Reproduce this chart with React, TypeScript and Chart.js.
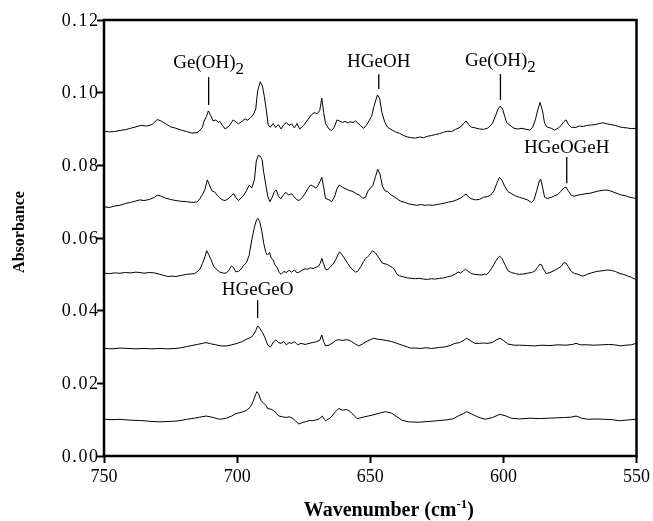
import React, { useEffect, useRef } from "react";
import { Chart, registerables } from "chart.js";

Chart.register(...registerables);

const FAMILY = '"Liberation Serif", "Times New Roman", serif';

const xTicks = [750, 700, 650, 600, 550];
const yTicks = [0, 0.02, 0.04, 0.06, 0.08, 0.1, 0.12];

// [wavenumber, absorbance]
const trace1: [number, number][] = [
  [750, .0894], [748, .0892], [746, .0893], [744, .0896], [742, .0898], [740, .0902], [738, .0906], [736, .0910], [734, .0908], [732, .0912],
  [730, .0926], [728.5, .0922], [727, .0915], [725, .0906], [723, .0902], [721, .0897], [719, .0893], [717, .0889], [715, .0890], [714, .0896],
  [713, .0905], [712.5, .0920], [711.5, .0935], [710.8, .0950], [710, .0938], [709, .0922], [708, .0925], [707, .0918], [706.5, .0921], [705.5, .0910],
  [704.5, .0900], [703, .0908], [701.5, .0925], [700.5, .0920], [699.5, .0914], [698, .0922], [697, .0928], [696, .0924], [695, .0932], [694, .0938],
  [693, .0955], [692.3, .1005], [691.3, .1030], [690.5, .1018], [689.8, .0990], [689, .0950], [688.3, .0910], [687.5, .0905], [686.5, .0915], [685.5, .0904],
  [684.5, .0912], [683.5, .0900], [682.5, .0912], [681.5, .0918], [680.5, .0910], [679.5, .0914], [678.5, .0903], [677.5, .0915], [676.5, .0900], [675, .0910],
  [673.5, .0925], [672, .0940], [671, .0945], [670, .0942], [669, .0950], [668.2, .0985], [667.5, .0945], [666.8, .0915], [665.5, .0900], [664.5, .0896],
  [663.5, .0905], [662.5, .0925], [661.5, .0922], [660.5, .0918], [659.5, .0921], [658.5, .0917], [657.5, .0920], [656.5, .0918], [655.5, .0922], [654.5, .0915],
  [653.5, .0908], [652.5, .0902], [651.5, .0910], [650.5, .0922], [649.5, .0935], [648.5, .0965], [647.3, .0994], [646.5, .0985], [645.6, .0945], [644.5, .0918],
  [643.5, .0905], [642.5, .0900], [641.5, .0896], [640.5, .0892], [639, .0888], [637.5, .0882], [636, .0878], [634.5, .0876], [633, .0875], [631.5, .0878],
  [630, .0876], [628.5, .0880], [627, .0882], [625.5, .0885], [624, .0887], [622.5, .0891], [621, .0894], [619.5, .0893], [618, .0899], [617, .0902],
  [616, .0906], [615, .0915], [614, .0922], [613, .0912], [612, .0905], [610.5, .0903], [609, .0900], [607.5, .0899], [606, .0902], [605, .0908],
  [604, .0917], [603, .0935], [602, .0955], [601.2, .0963], [600.3, .0955], [599.5, .0935], [598.8, .0918], [597.5, .0910], [596, .0902], [594.5, .0900],
  [593, .0902], [591.5, .0899], [590, .0897], [589, .0905], [588, .0925], [587, .0955], [586.2, .0973], [585.3, .0950], [584.5, .0915], [583.5, .0905],
  [582, .0902], [580.8, .0897], [579.5, .0902], [578.3, .0910], [577.3, .0920], [576.5, .0925], [575.5, .0912], [574.5, .0905], [573, .0904], [571.5, .0908],
  [570, .0907], [568.5, .0910], [567, .0911], [565.5, .0912], [564, .0915], [562.5, .0917], [561, .0914], [559.5, .0912], [558, .0910], [556.5, .0906],
  [555, .0904], [553.5, .0903], [552, .0901], [550, .0902],
];

const trace2: [number, number][] = [
  [750, .0686], [748, .0684], [746, .0688], [744, .0690], [742, .0695], [740, .0698], [738, .0702], [736.5, .0705], [735, .0703], [733, .0706],
  [731, .0712], [730, .0718], [728.5, .0715], [727, .0710], [725, .0706], [723, .0703], [721, .0701], [719, .0700], [717, .0698], [715, .0699],
  [714, .0708], [713, .0720], [712, .0735], [711.2, .0760], [710.5, .0748], [709.5, .0730], [708.5, .0727], [707.5, .0718], [706.5, .0710], [705.5, .0705],
  [704.5, .0703], [703, .0710], [702, .0718], [701.3, .0722], [700.5, .0712], [699.5, .0703], [698.5, .0710], [697.5, .0718], [696.5, .0730], [695.5, .0745],
  [694.5, .0738], [693.5, .0760], [692.8, .0812], [692, .0828], [691.3, .0825], [690.6, .0815], [690, .0780], [689.2, .0745], [688.5, .0715], [687.7, .0700],
  [686.8, .0712], [686, .0728], [685.3, .0732], [684.5, .0715], [683.6, .0708], [682.7, .0718], [681.7, .0726], [680.7, .0718], [679.7, .0722], [678.6, .0714],
  [677.7, .0706], [676.7, .0703], [675.5, .0712], [674.5, .0722], [673.5, .0735], [672.4, .0746], [671.3, .0742], [670.5, .0738], [669.8, .0742], [668.9, .0755],
  [668.2, .0767], [667.5, .0740], [666.8, .0709], [665.5, .0705], [664.5, .0700], [663.5, .0712], [662.5, .0735], [661.6, .0746], [660.5, .0740], [659.5, .0736],
  [658.5, .0733], [657.5, .0730], [656.5, .0728], [655.3, .0722], [654, .0718], [652.8, .0709], [651.8, .0712], [650.8, .0730], [650, .0737], [649, .0745],
  [648, .0770], [647.2, .0789], [646.3, .0775], [645.4, .0742], [644.5, .0730], [643.5, .0728], [642.5, .0720], [641.5, .0716], [640, .0708], [638.5, .0701],
  [637, .0698], [635.5, .0694], [634, .0692], [632.5, .0690], [631, .0692], [629.5, .0690], [628, .0691], [626.5, .0690], [625, .0692], [623.5, .0694],
  [622, .0696], [620.5, .0699], [619, .0701], [617.5, .0705], [616, .0710], [615, .0716], [614, .0721], [613, .0712], [612, .0708], [610.5, .0705],
  [609, .0706], [607.5, .0712], [606, .0714], [604.8, .0718], [603.5, .0730], [602.5, .0750], [601.5, .0767], [600.6, .0760], [599.5, .0742], [598.3, .0728],
  [597, .0722], [595.5, .0716], [594, .0712], [592.5, .0709], [591, .0705], [589.5, .0698], [588.5, .0705], [587.5, .0730], [586.5, .0757], [586, .0762],
  [585.3, .0740], [584.5, .0712], [583.5, .0709], [582, .0712], [580.8, .0716], [579.5, .0720], [578.5, .0728], [577.3, .0738], [576.5, .0740], [575.5, .0728],
  [574.5, .0718], [573.5, .0715], [572, .0718], [570.5, .0720], [569, .0722], [567.5, .0723], [566, .0726], [564.5, .0729], [563, .0731], [561.5, .0732],
  [560, .0730], [558.5, .0726], [557, .0722], [555.5, .0718], [554, .0716], [552.5, .0712], [551, .0710], [550, .0709],
];

const trace3: [number, number][] = [
  [750, .0503], [748, .0502], [746, .0504], [744, .0503], [742, .0505], [740, .0504], [738, .0506], [736.5, .0505], [735, .0503], [733, .0505],
  [731, .0504], [729, .0500], [727, .0496], [726, .0494], [724.5, .0495], [723, .0494], [721, .0497], [719, .0500], [717.5, .0501], [716, .0502],
  [715, .0507], [714, .0514], [713, .0530], [712, .0550], [711.4, .0565], [710.7, .0555], [709.8, .0540], [708.8, .0522], [707.5, .0512], [706.5, .0506],
  [705, .0503], [704, .0504], [703, .0512], [702.2, .0523], [701.4, .0519], [700.5, .0507], [699.5, .0508], [698.5, .0515], [697.5, .0525], [696.5, .0532],
  [695.5, .0552], [694.5, .0595], [693.5, .0630], [692.7, .0650], [692.2, .0654], [691.5, .0645], [690.7, .0618], [690, .0585], [689.2, .0560], [688.6, .0553],
  [687.8, .0560], [687.2, .0545], [686.5, .0540], [685.8, .0526], [685, .0519], [684.2, .0505], [683.5, .0500], [682.5, .0508], [681.5, .0505], [680.5, .0511],
  [679.5, .0506], [678.5, .0512], [677.5, .0504], [676.5, .0507], [675.5, .0512], [674.5, .0515], [673.5, .0514], [672.5, .0518], [671.5, .0516], [670.5, .0519],
  [669.5, .0522], [668.8, .0530], [668.2, .0544], [667.5, .0528], [666.8, .0514], [666, .0513], [665, .0520], [664, .0528], [663, .0540], [662, .0556],
  [661.5, .0562], [660.5, .0553], [659.5, .0542], [658.5, .0530], [657.5, .0520], [656.5, .0512], [655.5, .0506], [654.5, .0510], [653.5, .0522], [652.5, .0535],
  [651.8, .0544], [651, .0548], [650.3, .0553], [649.2, .0565], [648.2, .0560], [647.2, .0550], [646.3, .0540], [645.5, .0531], [644.5, .0529], [643.5, .0527],
  [642.5, .0522], [641.7, .0519], [640.8, .0512], [640, .0500], [639, .0496], [637.5, .0493], [636, .0490], [634.5, .0489], [633, .0488], [631.5, .0489],
  [630, .0487], [628.5, .0486], [627, .0488], [625.5, .0487], [624, .0489], [622.5, .0490], [621, .0493], [619.5, .0496], [618, .0501], [617, .0506],
  [616, .0504], [615, .0510], [614.2, .0514], [613.2, .0508], [612, .0502], [610.8, .0500], [609.5, .0499], [608, .0498], [607, .0501], [606.3, .0499],
  [605.3, .0507], [604.2, .0519], [603, .0535], [602, .0546], [601.4, .0550], [600.5, .0543], [599.5, .0528], [598.3, .0510], [597, .0505], [595.5, .0502],
  [594, .0500], [592.5, .0501], [591, .0503], [589.5, .0505], [588.3, .0508], [587.3, .0518], [586.3, .0528], [585.7, .0526], [585, .0515], [583.9, .0502],
  [582.5, .0505], [581, .0510], [579.5, .0516], [578.3, .0522], [577.3, .0532], [576.5, .0531], [575.5, .0520], [574.5, .0508], [573.3, .0502], [572, .0500],
  [570.2, .0495], [568.5, .0500], [567, .0504], [565.5, .0507], [564, .0509], [562.5, .0510], [561, .0512], [559.5, .0511], [558, .0508], [556.5, .0503],
  [555, .0500], [553.5, .0496], [552, .0492], [550.3, .0486],
];

const trace4: [number, number][] = [
  [750, .0296], [747, .0295], [744, .0297], [741, .0296], [738, .0295], [735, .0296], [732, .0295], [729, .0296], [726, .0295], [723, .0296],
  [721, .0298], [719, .0301], [717, .0304], [715, .0307], [713, .0310], [711.6, .0312], [710, .0309], [708, .0306], [706, .0303], [704, .0303],
  [702, .0306], [700, .0310], [698, .0315], [696.6, .0321], [695, .0326], [694, .0332], [693, .0345], [692.3, .0358], [691.5, .0352], [690.5, .0340],
  [689.5, .0325], [688.5, .0305], [687.5, .0300], [686.5, .0312], [685.5, .0320], [684.5, .0312], [683.5, .0310], [682.5, .0315], [681.5, .0306], [680.5, .0312],
  [679.5, .0310], [678.5, .0315], [677.3, .0306], [676, .0310], [674.5, .0307], [673, .0310], [671.8, .0312], [670.5, .0314], [669, .0318], [668.2, .0333],
  [667.5, .0315], [666.8, .0303], [665.5, .0305], [664, .0312], [663, .0318], [661.8, .0320], [660.5, .0318], [659, .0320], [658, .0319], [657, .0315],
  [656, .0310], [655, .0306], [654.3, .0303], [653, .0308], [651.5, .0315], [650, .0320], [648.7, .0324], [647, .0321], [645.5, .0320], [644, .0318],
  [642, .0315], [640, .0310], [638, .0305], [636, .0300], [635, .0297], [633, .0297], [631, .0296], [629, .0298], [627, .0296], [625.7, .0297],
  [624, .0299], [622, .0300], [620, .0304], [618.2, .0310], [616.5, .0312], [615, .0318], [613.8, .0324], [612.5, .0318], [610.7, .0310], [609, .0310],
  [607.5, .0311], [605.7, .0310], [604, .0313], [602.5, .0320], [601.3, .0324], [600, .0318], [598.3, .0308], [596, .0305], [594, .0305], [591, .0304],
  [588.3, .0303], [585.5, .0305], [582.5, .0304], [579.5, .0306], [576.5, .0305], [574, .0307], [572.7, .0310], [571, .0306], [568.3, .0306], [566, .0305],
  [563, .0306], [560.5, .0307], [558.3, .0306], [556, .0303], [554, .0305], [552, .0306], [550.2, .0310],
];

const trace5: [number, number][] = [
  [750, .0101], [747, .0100], [744, .0101], [741, .0099], [738, .0098], [735, .0097], [732, .0095], [729, .0094], [726, .0095], [723, .0096],
  [721, .0098], [719, .0101], [716, .0104], [714, .0107], [711.6, .0110], [709, .0106], [706.6, .0101], [704, .0104], [702, .0110], [700.4, .0117],
  [698.5, .0120], [696.6, .0125], [695, .0135], [694, .0150], [693, .0170], [692.6, .0177], [692, .0172], [691, .0152], [690, .0145], [689, .0138],
  [688.6, .0131], [687, .0128], [685.5, .0120], [684.3, .0110], [683, .0108], [681.5, .0106], [680.5, .0108], [679.2, .0104], [678, .0096], [676.8, .0088],
  [675.5, .0092], [674, .0095], [672.5, .0098], [671.8, .0097], [670, .0100], [669, .0103], [668, .0110], [667.2, .0100], [666.8, .0097], [665, .0105],
  [663.5, .0118], [662.5, .0126], [661.8, .0131], [660.5, .0126], [659, .0128], [658, .0125], [656.5, .0115], [655, .0103], [654.3, .0104], [652, .0108],
  [649, .0113], [646.5, .0118], [644.3, .0122], [642, .0118], [640, .0108], [638, .0098], [635.6, .0094], [632, .0093], [628, .0095], [625, .0097],
  [621.9, .0099], [619, .0102], [617, .0110], [615, .0117], [613.8, .0122], [612, .0116], [609.5, .0107], [606.9, .0101], [604, .0106], [601.3, .0115],
  [599, .0110], [597, .0104], [594, .0102], [590, .0104], [586.5, .0103], [583.3, .0104], [580, .0105], [577, .0106], [574.5, .0107], [572.7, .0110],
  [570.5, .0104], [568.3, .0101], [565, .0102], [562, .0101], [559, .0100], [556.5, .0097], [553.5, .0099], [550.2, .0101],
];

const traces = [trace1, trace2, trace3, trace4, trace5];

type Annotation = { label: string; sub?: string; x: number; top: number; bottom: number; textY: number };

const annotations: Annotation[] = [
  { label: "Ge(OH)", sub: "2", x: 710.7, top: 0.1043, bottom: 0.0966, textY: 0.1068 },
  { label: "HGeOH", x: 646.8, top: 0.1051, bottom: 0.101, textY: 0.1071 },
  { label: "Ge(OH)", sub: "2", x: 601.1, top: 0.1051, bottom: 0.098, textY: 0.1073 },
  { label: "HGeOGeH", x: 576.2, top: 0.0823, bottom: 0.0751, textY: 0.0834 },
  { label: "HGeGeO", x: 692.3, top: 0.0429, bottom: 0.038, textY: 0.0443 },
];

const yTitle = "Absorbance";
const xTitle = "Wavenumber (cm";
const xTitleSup = "-1";
const xTitleEnd = ")";

function drawSpaced(ctx: CanvasRenderingContext2D, text: string, right: number, y: number, gap: number) {
  const widths = Array.from(text).map((c) => ctx.measureText(c).width);
  const total = widths.reduce((s, w) => s + w, 0) + gap * (widths.length - 1);
  let x = right - total;
  Array.from(text).forEach((c, i) => {
    ctx.fillText(c, x, y);
    x += widths[i] + gap;
  });
}

const overlay = {
  id: "overlay",
  afterDraw(chart: any) {
    const { ctx, chartArea: a, scales } = chart;
    const xs = scales.x;
    const ys = scales.y;
    ctx.save();
    ctx.strokeStyle = "#000";
    ctx.fillStyle = "#000";
    ctx.lineWidth = 2.5;
    ctx.strokeRect(a.left, a.top, a.right - a.left, a.bottom - a.top);

    // y tick labels
    ctx.font = `18px ${FAMILY}`;
    ctx.textAlign = "left";
    ctx.textBaseline = "middle";
    for (const v of yTicks) {
      drawSpaced(ctx, v.toFixed(2), a.left - 6, ys.getPixelForValue(v) + 1, 1.6);
    }

    ctx.lineWidth = 1.3;
    ctx.textBaseline = "alphabetic";
    for (const an of annotations) {
      const px = xs.getPixelForValue(an.x);
      ctx.beginPath();
      ctx.moveTo(px, ys.getPixelForValue(an.top));
      ctx.lineTo(px, ys.getPixelForValue(an.bottom));
      ctx.stroke();
      ctx.font = `19px ${FAMILY}`;
      const w1 = ctx.measureText(an.label).width;
      let w2 = 0;
      if (an.sub) {
        ctx.font = `17px ${FAMILY}`;
        w2 = ctx.measureText(an.sub).width;
      }
      const ty = ys.getPixelForValue(an.textY);
      const x0 = px - (w1 + w2) / 2;
      ctx.font = `19px ${FAMILY}`;
      ctx.fillText(an.label, x0, ty);
      if (an.sub) {
        ctx.font = `17px ${FAMILY}`;
        ctx.fillText(an.sub, x0 + w1, ty + 6);
      }
    }

    // x title
    ctx.font = `bold 20px ${FAMILY}`;
    const wA = ctx.measureText(xTitle).width;
    const wC = ctx.measureText(xTitleEnd).width;
    ctx.font = `bold 13px ${FAMILY}`;
    const wB = ctx.measureText(xTitleSup).width;
    const cx = a.left + (a.right - a.left) * 0.535;
    const by = 516;
    const sx = cx - (wA + wB + wC) / 2;
    ctx.font = `bold 20px ${FAMILY}`;
    ctx.fillText(xTitle, sx, by);
    ctx.font = `bold 13px ${FAMILY}`;
    ctx.fillText(xTitleSup, sx + wA, by - 8);
    ctx.font = `bold 20px ${FAMILY}`;
    ctx.fillText(xTitleEnd, sx + wA + wB, by);

    // y title
    ctx.translate(20, (a.top + a.bottom) / 2 - 6);
    ctx.rotate(-Math.PI / 2);
    ctx.font = `bold 16px ${FAMILY}`;
    ctx.textAlign = "center";
    ctx.textBaseline = "middle";
    ctx.fillText(yTitle, 0, 0);
    ctx.restore();
  },
};

export default function App() {
  const ref = useRef<HTMLCanvasElement | null>(null);
  useEffect(() => {
    if (!ref.current) return;
    const chart = new Chart(ref.current, {
      type: "line",
      data: {
        datasets: traces.map((t) => ({
          data: t.map(([x, y]) => ({ x, y })),
          borderColor: "#000",
          borderWidth: 1,
          pointRadius: 0,
          fill: false,
          tension: 0,
        })),
      },
      options: {
        animation: false,
        responsive: true,
        maintainAspectRatio: false,
        layout: { padding: { left: 0, right: 14, top: 20, bottom: 0 } },
        plugins: { legend: { display: false }, tooltip: { enabled: false } },
        events: [],
        scales: {
          x: {
            type: "linear",
            min: 550,
            max: 750,
            reverse: true,
            afterFit: (s: any) => {
              s.height = 65;
            },
            afterBuildTicks: (s: any) => {
              s.ticks = xTicks.map((v) => ({ value: v }));
            },
            ticks: {
              color: "#000",
              font: { family: FAMILY, size: 18 },
              padding: 3,
              maxRotation: 0,
              callback: (v: any) => String(v),
            },
            grid: { display: true, drawOnChartArea: false, drawTicks: true, tickLength: 7, tickWidth: 2, tickColor: "#000", color: "#000" },
            border: { display: false },
          },
          y: {
            type: "linear",
            min: 0,
            max: 0.12,
            afterFit: (s: any) => {
              s.width = 104;
            },
            afterBuildTicks: (s: any) => {
              s.ticks = yTicks.map((v) => ({ value: v }));
            },
            ticks: {
              display: false,
            },
            grid: { display: true, drawOnChartArea: false, drawTicks: true, tickLength: 7, tickWidth: 2, tickColor: "#000", color: "#000" },
            border: { display: false },
          },
        },
      },
      plugins: [overlay],
    });
    return () => chart.destroy();
  }, []);
  return (
    <div style={{ position: "absolute", left: 0, top: 0, width: 653, height: 521, background: "#fff" }}>
      <canvas ref={ref} />
    </div>
  );
}
